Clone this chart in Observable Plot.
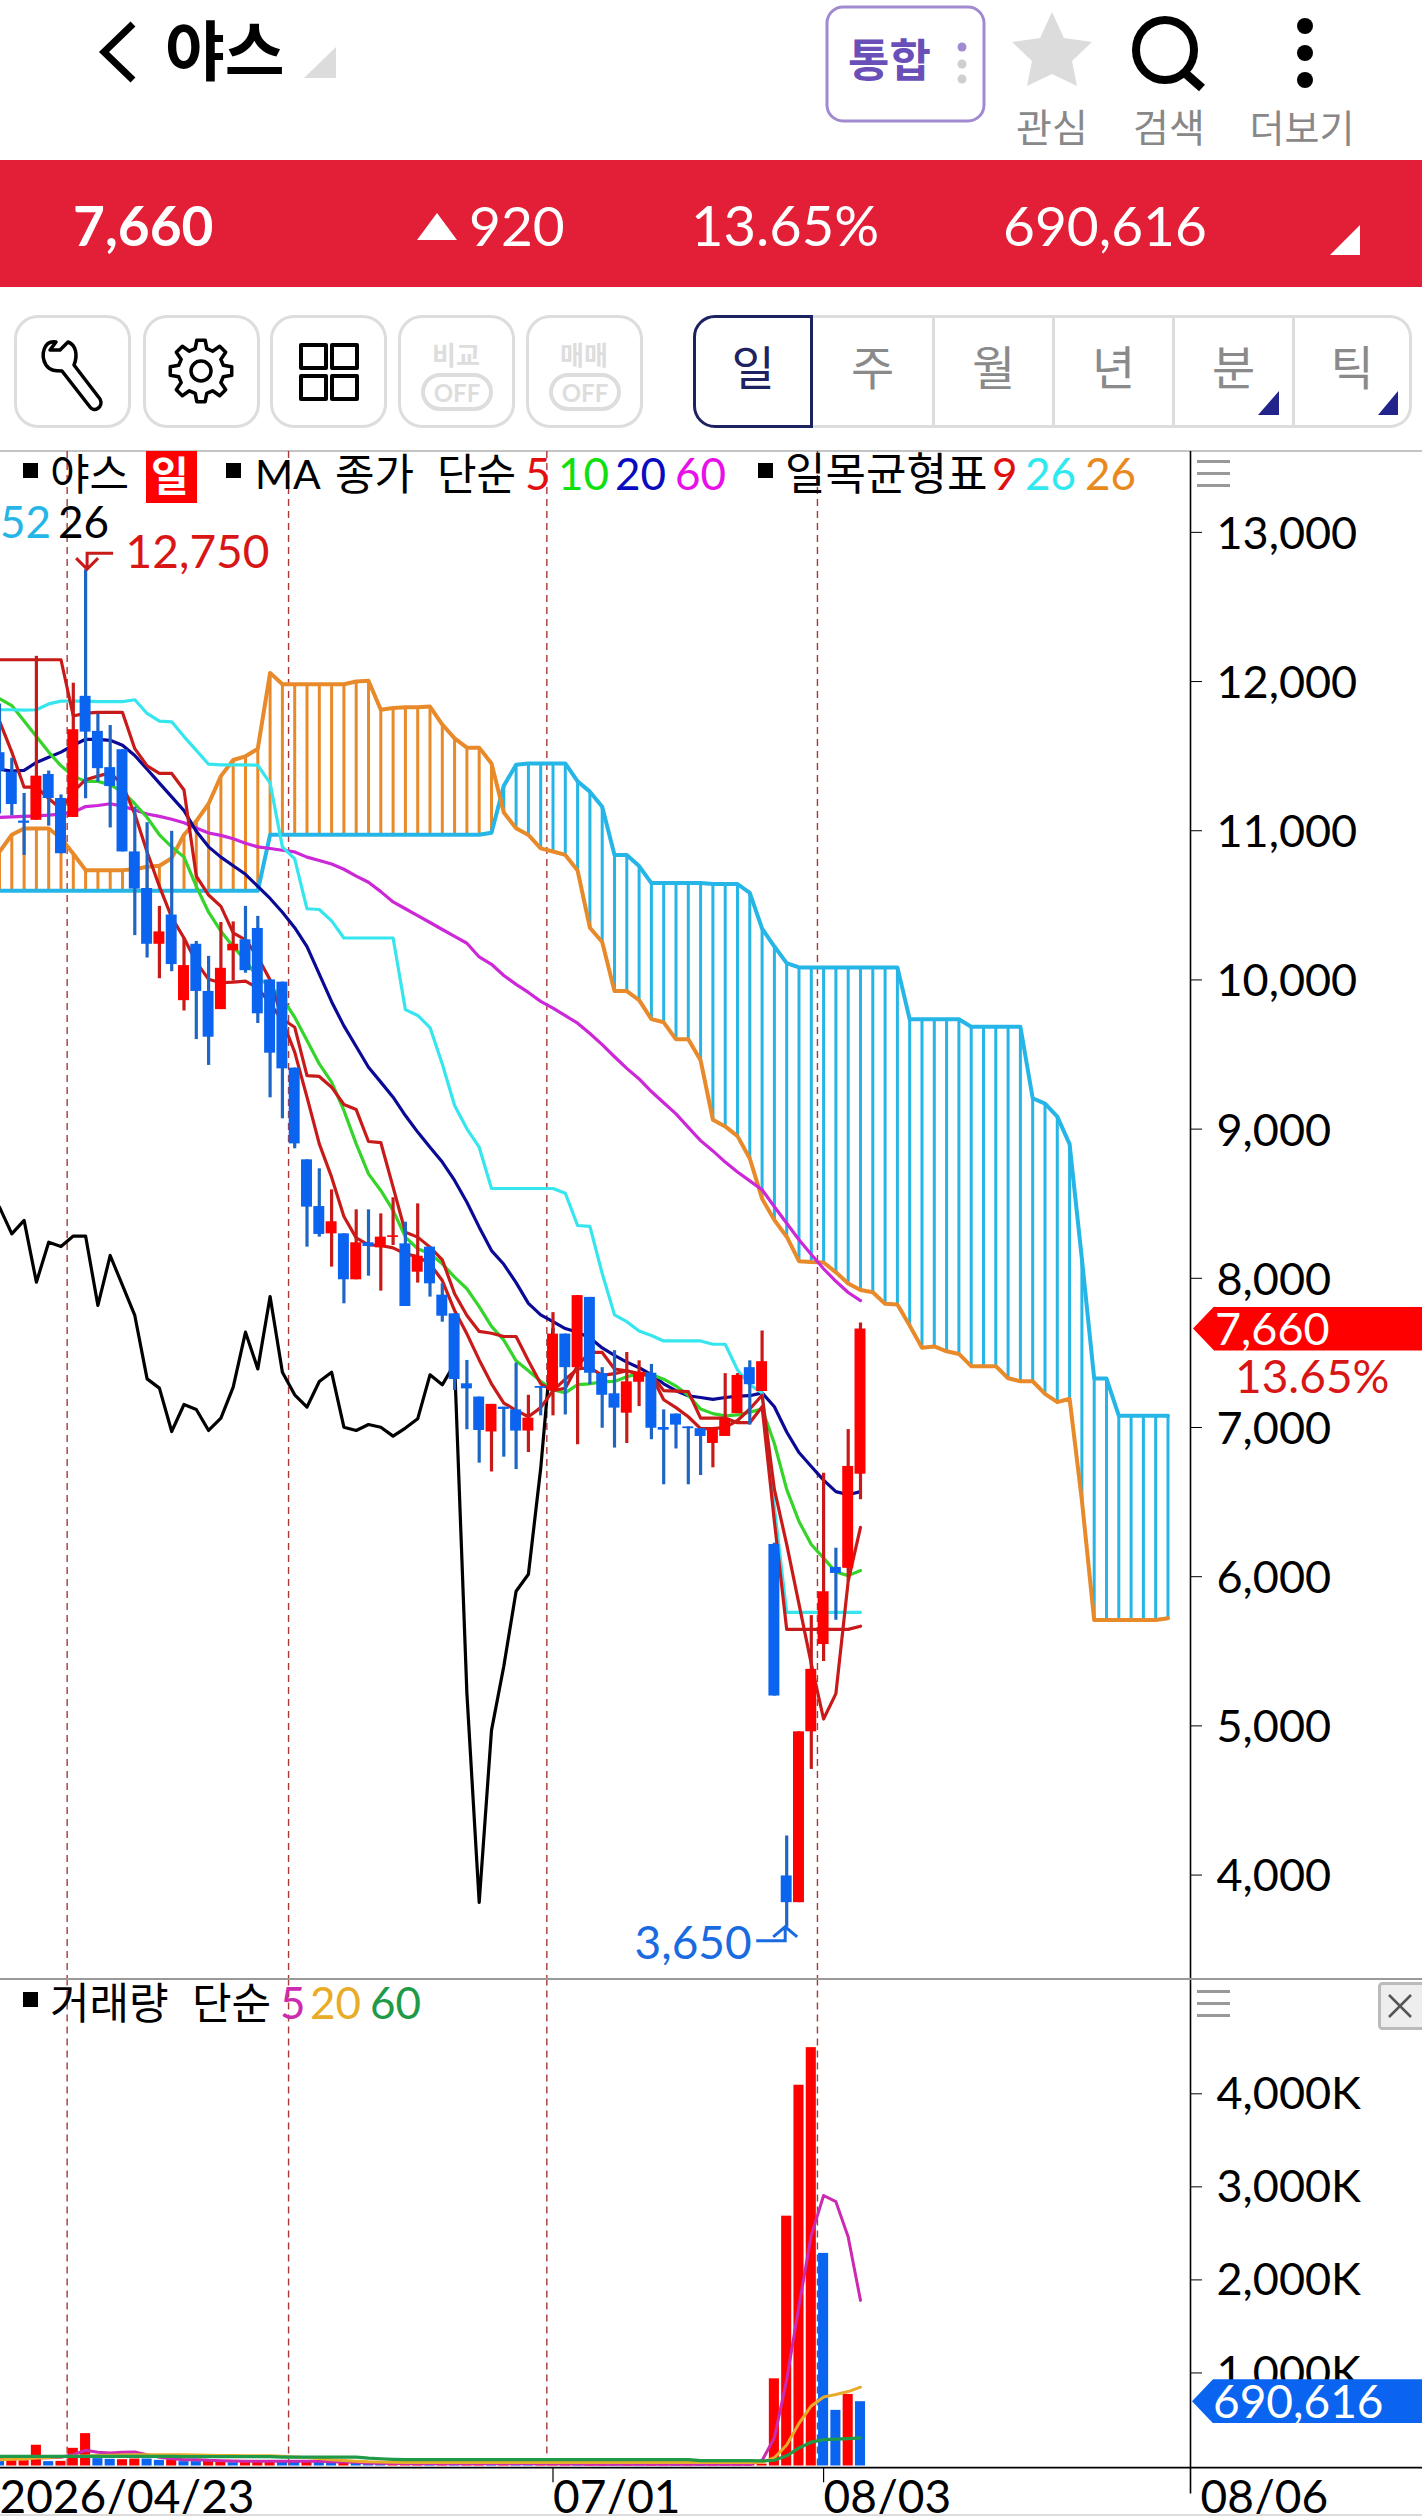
<!DOCTYPE html>
<html lang="ko"><head><meta charset="utf-8">
<script src="https://cdn.jsdelivr.net/npm/d3@7"></script>
<script src="https://cdn.jsdelivr.net/npm/@observablehq/plot@0.6"></script>
<style>
html,body{margin:0;padding:0;background:#fff}
#page{position:relative;width:1422px;height:2516px;overflow:hidden;font-family:Lato,"Noto Sans CJK KR",sans-serif;color:#000}
#page>*{position:absolute}
.t{white-space:nowrap;line-height:1}
.btn{box-sizing:border-box;top:315px;height:113px;width:117px;border:3px solid #ddd;border-radius:24px;background:#fff}
.ham{width:33px;height:27px;border-top:3px solid #999;border-bottom:3px solid #999;box-sizing:border-box}
.ham:after{content:"";display:block;height:3px;background:#999;margin-top:9px}
.tab{box-sizing:border-box;top:315px;height:113px;text-align:center;line-height:98px;font-size:47px;color:#8a8a8a;border:3px solid #ddd;border-left:0}
</style></head><body><div id="page"></div>
<script>
// ---------- prices (won), one entry per session ----------
const open = [11523,11393,11065,11070,11377,11216,11089,11901,11666,11423,11543,10858,10613,10239,10435,9861,10239,9923,9801,10195,10269,10345,10000,9985,9409,8794,8481,8298,8298,7990,8238,8204,8274,8231,8041,8209,7887,7762,7293,7204,6970,7136,7118,6976,7275,7247,7626,7401,7872,7361,7226,7096,7303,7364,7000,7090,7004,6992,6893,6940,7093,7401,7241,6216,3994,3815,4960,5545,6062,6056,6687];
const high = [11850,11486,11250,12169,11400,11240,11989,12750,11781,11705,11543,11158,11054,10493,10996,10281,10258,10158,10385,10389,10493,10426,10000,9985,9409,8794,8734,8593,8298,8459,8459,8432,8540,8376,8499,8209,7963,7762,7449,7204,7155,7136,7432,7216,7275,7770,7626,7884,7872,7401,7515,7503,7447,7423,7118,7090,7004,6992,6992,7361,7361,7447,7647,6225,4262,4960,5739,6693,6191,6986,7700];
const low = [11112,11100,10835,11070,11031,10846,11089,11215,11326,11019,10858,10297,10147,10008,10055,9792,9600,9427,9801,9992,10045,9708,9210,9069,8868,8209,8276,8075,7829,7990,8014,7914,8220,7811,7968,7874,7706,7248,6985,6761,6702,6801,6718,6832,7078,7078,7084,6884,7287,6995,6862,6893,7140,6918,6616,6856,6616,6678,6730,6940,7093,7016,7241,5200,3650,3815,4708,5431,5708,5970,6515];
const close = [11400,11176,11050,11366,11216,10846,11677,11661,11416,11296,10858,10609,10239,10322,10103,10096,9923,9616,10078,10239,10062,9773,9509,9404,8901,8477,8294,8379,7990,8238,8213,8276,8285,7811,8148,7963,7746,7322,7259,6980,7155,7121,6976,7063,7263,7626,7401,7884,7364,7216,7130,7306,7370,6995,6982,7016,6992,6940,6992,7056,7349,7287,7441,5200,3815,4960,5379,5899,6022,6739,7660];
// ---------- moving averages ----------
const ma5 = [11735,11527,11292,11292,11216,11146,11262,11342,11366,11389,11308,11112,10858,10627,10419,10281,10119,10004,9981,9985,9992,9946,9842,9727,9516,9214,8901,8678,8414,8271,8224,8220,8204,8164,8146,8097,7985,7784,7628,7453,7293,7164,7115,7072,7133,7247,7324,7392,7401,7349,7361,7380,7355,7349,7186,7133,7072,6992,6992,7001,7047,7124,7216,6585,6216,5816,5416,5046,5216,5970,6330];
const ma10 = [11885,11839,11735,11631,11527,11435,11366,11331,11331,11308,11262,11181,11089,10973,10892,10823,10627,10454,10327,10223,10131,10015,9958,9877,9750,9594,9437,9315,9125,8901,8700,8589,8455,8276,8198,8164,8097,8008,7930,7810,7678,7586,7447,7380,7309,7253,7232,7287,7293,7306,7309,7340,7361,7355,7324,7278,7216,7124,7093,7078,7084,7103,7124,6893,6585,6370,6216,6124,6031,6007,6041];
const ma20 = [11412,11400,11405,11458,11493,11527,11573,11613,11613,11606,11573,11504,11412,11319,11227,11135,10996,10892,10823,10765,10708,10627,10546,10454,10350,10223,10039,9854,9692,9554,9415,9315,9214,9091,8980,8879,8779,8656,8510,8343,8186,8094,7971,7832,7755,7709,7663,7638,7601,7533,7484,7438,7401,7355,7293,7247,7213,7201,7189,7201,7210,7213,7232,7139,6970,6832,6739,6647,6570,6549,6570];
const ma60 = [11089,11093,11096,11100,11105,11112,11123,11162,11169,11181,11165,11139,11112,11096,11077,11054,11019,10985,10969,10946,10916,10892,10881,10869,10858,10823,10800,10777,10742,10696,10655,10592,10523,10477,10431,10385,10338,10292,10246,10154,10105,10030,9970,9916,9856,9811,9760,9710,9641,9566,9485,9407,9336,9252,9177,9102,9012,8923,8854,8779,8713,8653,8594,8480,8369,8258,8160,8064,7980,7905,7851];
// ---------- ichimoku ----------
const tenkan = [12146,12146,12146,12146,12146,12146,11769,11788,11793,11793,11793,11550,11435,11384,11384,11273,10696,10569,10493,10315,10269,10154,10000,9738,9683,9359,9353,9281,9165,9131,8917,8910,8611,8309,8276,8209,8124,7896,7751,7644,7632,7610,7610,7447,7293,7247,7263,7416,7503,7503,7392,7380,7361,7355,7247,7244,7241,7063,7063,7063,7032,7032,7139,6370,5647,5647,5647,5647,5647,5647,5668];
const kijun = [11811,11811,11809,11811,11850,11869,11869,11869,11866,11866,11866,11878,11786,11735,11730,11631,11539,11446,11442,11442,11442,11439,11319,10892,10812,10477,10472,10396,10281,10281,10281,10281,10281,9801,9762,9681,9437,9158,9002,8879,8602,8602,8602,8602,8602,8602,8570,8354,8348,8032,7755,7709,7647,7617,7580,7580,7580,7580,7558,7558,7386,7287,7232,6462,5761,5761,5761,5761,5761,5761,5761];
const chikou = [8477,8298,8388,7974,8242,8213,8283,8283,7818,8153,7952,7751,7326,7264,6973,7154,7121,6980,7063,7271,7639,7393,7878,7371,7219,7137,7308,7371,7002,6980,7020,7002,6942,6996,7058,7353,7286,7427,5218,3817,4970,5400,5902,6016,6725,7660];
const spanOrange = [10858,10973,11015,11015,11015,10950,10846,10736,10736,10736,10736,10742,10759,10765,10816,10973,11065,11181,11366,11474,11499,11550,12058,11982,11982,11982,11982,11982,11982,12000,12005,11811,11823,11827,11827,11832,11712,11619,11557,11557,11451,11122,11017,10972,10882,10861,10838,10733,10350,10254,9925,9925,9865,9737,9716,9602,9602,9461,9063,9018,8953,8803,8534,8390,8279,8115,8109,8106,8040,7965,7922,7907,7829,7824,7683,7534,7543,7511,7493,7411,7411,7411,7330,7310,7310,7225,7170,7193,6511,5709,5709,5709,5709,5709,5709,5721];
const spanSky = [10597,10597,10597,10597,10597,10597,10597,10597,10597,10597,10597,10597,10597,10597,10597,10597,10597,10597,10597,10597,10597,10597,10973,10973,10973,10973,10973,10973,10973,10973,10973,10973,10973,10973,10973,10973,10973,10973,10973,10973,10987,11301,11442,11451,11451,11451,11451,11331,11262,11161,10838,10838,10763,10649,10649,10649,10649,10649,10643,10643,10643,10583,10344,10224,10113,10084,10084,10084,10084,10084,10084,10084,10084,10084,9736,9736,9736,9736,9736,9686,9686,9686,9686,9686,9207,9171,9084,8899,8130,7328,7328,7079,7079,7079,7079,7079];
// ---------- volume (thousand shares) ----------
const volume = [50,57,57,223,47,50,190,348,79,72,68,75,75,61,68,47,47,50,54,36,54,54,54,57,57,57,50,47,39,29,25,25,29,29,22,25,25,25,25,25,25,25,25,25,25,22,20,20,18,18,18,18,18,18,20,20,20,18,18,18,18,18,20,937,2685,4092,4496,2285,598,769,691];
const volumeSide = ["b","r","r","r","b","r","r","r","b","b","r","r","b","b","r","b","b","r","r","b","r","r","r","b","b","r","b","b","r","b","b","b","r","r","r","b","r","b","r","r","b","r","b","b","r","r","r","b","r","r","b","r","b","r","r","b","r","b","r","r","r","r","r","r","r","r","r","b","b","r","b"];
const volMa5 = [86,86,86,90,90,94,122,169,147,140,147,151,122,93,79,68,68,61,57,54,50,50,50,50,50,50,50,47,43,39,30,29,27,26,25,25,25,25,25,25,25,25,25,25,25,23,22,21,20,19,18,18,18,18,19,19,19,19,18,18,18,18,60,303,925,1721,2479,2907,2841,2460,1780];
const volMa20 = [68,72,76,85,92,100,104,108,112,116,119,122,122,122,122,120,118,116,114,112,111,111,111,105,98,90,80,68,60,52,46,43,40,38,38,38,38,38,38,38,38,38,38,38,38,38,38,38,38,38,38,38,38,38,38,38,38,38,38,38,38,38,39,89,225,458,645,742,769,800,847];
const volMa60 = [104,104,104,104,104,104,104,104,104,104,104,104,104,104,104,100,100,100,100,100,100,100,100,95,95,95,95,95,95,95,85,78,72,68,68,68,68,68,68,68,68,68,68,68,68,68,68,68,68,68,68,68,68,68,68,68,68,57,57,57,57,57,55,62,109,194,256,284,288,295,303];
// ---------- axes and labels ----------
const priceTicks = [4000,5000,6000,7000,8000,9000,10000,11000,12000,13000];
const volumeTicks = [1000,2000,3000,4000];
const monthBreaks = [5.5,23.5,44.5,66.5];
const dateIndex = [0,45,67];
const dateText = ["2026/04/23","07/01","08/03"];
const lastDateSlot = [97.65];
const lastDateText = ["08/06"];

const FONT = 'Lato,"Noto Sans CJK KR",sans-serif';
const RED="#ff0000", BLUE="#0a64f0", WICKR="#c91a1a", WICKB="#1f66c4", SKY="#25b5e6", ORANGE="#e8892a";
const xDomain=[0.0813,96.83], xRange=[0,1190];

const candles = open.map((o,i)=>({i,o,c:close[i],h:high[i],l:low[i],up:close[i]>=o}));
const series = a => a.map((v,i)=>({i,v}));
const cloud = spanOrange.map((a,i)=>({i,a,b:spanSky[i]}));
const vols = volume.map((v,i)=>({i,v,s:volumeSide[i]}));
const line = (a,stroke,w=3.2)=>Plot.line(series(a),{x:"i",y:"v",stroke,strokeWidth:w,clip:true,strokeLinejoin:"round"});

// callout drawn through the scales: elbow arrow from the label to the extreme value
const callout = (ix,val,color,dir)=>(index,scales)=>{
  const X=scales.x(ix), Y=scales.y(val);
  const p=d3.create("svg:path").attr("fill","none").attr("stroke",color).attr("stroke-width",3);
  if(dir>0) p.attr("d",`M${X+28},${Y-16}H${X+2}V${Y-2}M${X-9},${Y-11}L${X+2},${Y}L${X+13},${Y-11}`);
  else p.attr("d",`M${X-30},${Y+14}H${X-1}V${Y+1}M${X-13},${Y+10}L${X-1},${Y}L${X+11},${Y+10}`);
  return p.node();
};
const nudge = (svg,px)=>svg.querySelectorAll('[aria-label="y-axis tick label"]').forEach(g=>g.style.translate=`0 ${px}px`);

const price = Plot.plot({
  width:1422,height:1528,marginTop:0,marginBottom:0,marginLeft:0,marginRight:232,
  style:{background:"transparent",fontFamily:FONT,overflow:"visible"},
  x:{domain:xDomain,range:xRange,axis:null},
  y:{domain:[3300,13542],range:[1528,0]},
  marks:[
    Plot.ruleX(monthBreaks,{stroke:"#a83a3a",strokeWidth:1.4,strokeDasharray:"7,5",clip:true}),
    Plot.ruleX(cloud.filter(d=>d.a>=d.b),{x:"i",y1:"a",y2:"b",stroke:ORANGE,strokeWidth:3,clip:true}),
    Plot.ruleX(cloud.filter(d=>d.a<d.b),{x:"i",y1:"a",y2:"b",stroke:SKY,strokeWidth:3,clip:true}),
    line(spanSky,SKY,4), line(spanOrange,ORANGE,4),
    line(chikou,"#000"), line(ma60,"#cc28d8"), line(ma20,"#0a0a96"), line(ma10,"#35d42a"),
    line(kijun,"#36e6ee"), line(tenkan,WICKR), line(ma5,WICKR),
    Plot.ruleX(candles.filter(d=>d.up),{x:"i",y1:"l",y2:"h",stroke:WICKR,strokeWidth:3.2,clip:true}),
    Plot.ruleX(candles.filter(d=>!d.up),{x:"i",y1:"l",y2:"h",stroke:WICKB,strokeWidth:3.2,clip:true}),
    Plot.rect(candles.filter(d=>d.up),{x1:d=>d.i-.445,x2:d=>d.i+.445,y1:"o",y2:"c",fill:RED,clip:true}),
    Plot.rect(candles.filter(d=>!d.up),{x1:d=>d.i-.445,x2:d=>d.i+.445,y1:"o",y2:"c",fill:BLUE,clip:true}),
    Plot.ruleX([xDomain[1]],{stroke:"#000",strokeWidth:1.6}),
    Plot.axisY(priceTicks,{anchor:"right",label:null,tickSize:11,tickPadding:15,fontSize:45,tickFormat:d3.format(","),stroke:"#000",fill:"#000"}),
    callout(7,12750,"#c91a1a",1),
    Plot.text(["12,750"],{x:[7],y:[12750],dx:40,dy:-16,textAnchor:"start",fontSize:46,fill:"#d81616"}),
    callout(64,3650,"#1a6ae0",-1),
    Plot.text(["3,650"],{x:[64],y:[3650],dx:-35,dy:17,textAnchor:"end",fontSize:46,fill:"#1a6ae0"})
  ]
});
price.style.cssText+=";left:0;top:451px";
nudge(price,2);

const vol = Plot.plot({
  width:1422,height:537,marginTop:0,marginBottom:0,marginLeft:0,marginRight:232,
  style:{background:"transparent",fontFamily:FONT,overflow:"visible"},
  x:{domain:xDomain,range:xRange,axis:null},
  y:{domain:[0,4000],range:[486.5,114.3]},
  marks:[
    Plot.ruleX(monthBreaks,{stroke:"#a83a3a",strokeWidth:1.4,strokeDasharray:"7,5",y1:0,y2:5228,clip:true}),
    Plot.rect(vols.filter(d=>d.s==="r"),{x1:d=>d.i-.41,x2:d=>d.i+.41,y1:0,y2:"v",fill:RED,clip:true}),
    Plot.rect(vols.filter(d=>d.s==="b"),{x1:d=>d.i-.41,x2:d=>d.i+.41,y1:0,y2:"v",fill:BLUE,clip:true}),
    line(volMa5,"#cc2ab0",3), line(volMa20,"#e8ac28",3), line(volMa60,"#1f9a48",3.2),
    Plot.axisY(volumeTicks,{anchor:"right",label:null,tickSize:11,tickPadding:15,fontSize:45,tickFormat:v=>d3.format(",")(v)+"K",stroke:"#000",fill:"#000"}),
    Plot.ruleY([-17],{stroke:"#000",strokeWidth:1.6,x1:0,x2:115.7}),
    Plot.ruleX([xDomain[1]],{y1:-300,y2:5228,stroke:"#000",strokeWidth:1.6}),
    Plot.ruleX(dateIndex.slice(1),{y1:-17,y2:-180,stroke:"#000",strokeWidth:1.2}),
    Plot.text(dateText,{x:dateIndex,y:d=>-350,textAnchor:"start",fontSize:46,fill:"#000"}),
    Plot.text(lastDateText,{x:lastDateSlot,y:d=>-350,textAnchor:"start",fontSize:46,fill:"#000"})
  ]
});
vol.style.cssText+=";left:0;top:1979px";
nudge(vol,1);

const page=document.getElementById("page");
const el=(html)=>{const d=document.createElement("div");d.innerHTML=html;const n=d.firstElementChild;page.appendChild(n);return n;};
const txt=(s,x,yc,size,color,extra="")=>el(`<div class="t" style="left:${x}px;top:${yc-size/2}px;font-size:${size}px;color:${color};${extra}">${s}</div>`);

// --- app chrome ---
el(`<svg style="left:0;top:0" width="1422" height="160" xmlns="http://www.w3.org/2000/svg">
<path d="M133,24 L104,52 L133,80" fill="none" stroke="#000" stroke-width="7"/>
<path d="M336,47V78H304Z" fill="#dcdcdc"/>
<rect x="827" y="7" width="157" height="114" rx="16" fill="#fff" stroke="#a08ad0" stroke-width="3"/>
<circle cx="962" cy="47" r="4.5" fill="#a08ad0"/><circle cx="962" cy="64" r="4.5" fill="#cfcfcf"/><circle cx="962" cy="79" r="4.5" fill="#cfcfcf"/>
<path d="M1052,12 L1064,38 L1092,42 L1072,61 L1077,86 L1052,74 L1027,86 L1032,61 L1012,42 L1040,38Z" fill="#dcdcdc"/>
<ellipse cx="1165" cy="50" rx="29" ry="30" fill="none" stroke="#000" stroke-width="8"/><path d="M1185,73 L1202,88" stroke="#000" stroke-width="9"/>
<circle cx="1305" cy="26" r="8"/><circle cx="1305" cy="53" r="8"/><circle cx="1305" cy="80" r="8"/></svg>`);
txt("야스",165,50,65,"#000","font-weight:700");
txt("통합",848,60,45,"#6a4fb8","font-weight:700");
txt("관심",1052,127,39,"#888","transform:translateX(-50%)");
txt("검색",1169,127,39,"#888","transform:translateX(-50%)");
txt("더보기",1302,127,38,"#888","transform:translateX(-50%)");
el(`<div style="left:0;top:160px;width:1422px;height:127px;background:#e21f36"></div>`);
txt("7,660",73,225,55,"#fff","font-weight:700");
el(`<svg style="left:0;top:160px" width="1422" height="127"><path d="M417,80 L437,53 L457,80Z" fill="#fff"/><path d="M1360,65 V95 H1330Z" fill="#fff"/></svg>`);
txt("920",469,225,55,"#fff");
txt("13.65%",691,225,56,"#fff");
txt("690,616",1003,225,55,"#fff");
// toolbar
[14,143,270,398,526].forEach(x=>el(`<div class="btn" style="left:${x}px"></div>`));
const gear=(cx,cy,n,r1,r2)=>{let d="";for(let k=0;k<n;k++){const a=k*2*Math.PI/n,w=Math.PI/n*.5;[[r1,a-w*1.3],[r2,a-w*.7],[r2,a+w*.7],[r1,a+w*1.3]].forEach(([r,t],j)=>{d+=(k==0&&j==0?"M":"L")+(cx+r*Math.sin(t)).toFixed(1)+","+(cy-r*Math.cos(t)).toFixed(1);});}return d+"Z";};
el(`<svg style="left:0;top:315px" width="660" height="113" fill="none" xmlns="http://www.w3.org/2000/svg">
<g stroke="#000" stroke-width="3.5" stroke-linejoin="round"><path d="M56,27 C44,25 40,40 46,50 C50,56 56,56 62,56 L90,92 C94,98 104,92 100,84 L74,50 C78,40 76,30 68,27 L60,35 L50,35Z"/>
<circle cx="201" cy="56" r="10"/><path d="${gear(201,56,8,23,31)}"/>
<rect x="301" y="30" width="25" height="23" stroke-width="4"/><rect x="332" y="30" width="25" height="23" stroke-width="4"/><rect x="301" y="61" width="25" height="23" stroke-width="4"/><rect x="332" y="61" width="25" height="23" stroke-width="4"/></g>
<rect x="423" y="60" width="68" height="34" rx="17" stroke="#ddd" stroke-width="4"/><rect x="551" y="60" width="68" height="34" rx="17" stroke="#ddd" stroke-width="4"/></svg>`);
txt("비교",456,355,26,"#ddd","transform:translateX(-50%);font-weight:700");
txt("매매",584,355,26,"#ddd","transform:translateX(-50%);font-weight:700");
txt("OFF",457,393,24,"#ddd","transform:translateX(-50%);font-weight:700");
txt("OFF",585,393,24,"#ddd","transform:translateX(-50%);font-weight:700");
[["주",813,122],["월",935,120],["년",1055,120],["분",1175,120],["틱",1295,117]].forEach(([s,x,w],k)=>{
  el(`<div class="tab" style="left:${x}px;width:${w}px;${k==4?"border-radius:0 22px 22px 0":""}">${s}</div>`);});
el(`<div class="tab" style="left:693px;width:120px;border:3px solid #1d2260;border-radius:22px 0 0 22px;color:#1d2260">일</div>`);
el(`<svg style="left:0;top:315px" width="1422" height="113"><path d="M1279,100 V76 L1258,100Z" fill="#22248c"/><path d="M1398,100 V76 L1378,100Z" fill="#22248c"/></svg>`);
el(`<div style="left:0;top:450px;width:1422px;height:2px;background:#c4c4c4"></div>`);
page.appendChild(price); page.appendChild(vol);
price.style.position="absolute"; vol.style.position="absolute";
el(`<div style="left:0;top:1978px;width:1422px;height:2px;background:#999"></div>`);
el(`<div style="left:0;top:2514px;width:1422px;height:2px;background:#ddd"></div>`);
el(`<div class="ham" style="left:1197px;top:460px"></div>`);
el(`<div class="ham" style="left:1197px;top:1990px"></div>`);
el(`<svg style="left:1378px;top:1982px" width="44" height="48"><rect x="1.5" y="1.5" width="50" height="45" rx="3" fill="#eee" stroke="#bbb" stroke-width="3"/><path d="M11,13 L33,35 M33,13 L11,35" stroke="#555" stroke-width="2.5"/></svg>`);

// --- legends ---
const sq=(x,yc)=>el(`<div style="left:${x}px;top:${yc-8}px;width:15px;height:15px;background:#000"></div>`);
sq(23,471);
txt("야스",50,473,43,"#000");
el(`<div style="left:146px;top:451px;width:51px;height:52px;background:#f00"></div>`);
txt("일",151,475,41,"#fff","font-weight:700");
sq(226,471);
txt("MA",255,473,41,"#000");
txt("종가",335,473,43,"#000");
txt("단순",437,473,43,"#000");
[["5",525,"#e01010"],["10",558,"#10e010"],["20",615,"#0a0ac0"],["60",675,"#e810e8"]].forEach(([s,x,c])=>txt(s,x,473,44,c));
sq(758,471);
txt("일목균형표",785,473,44,"#000");
[["9",992,"#e01010"],["26",1025,"#30e8f0"],["26",1085,"#e8891e"]].forEach(([s,x,c])=>txt(s,x,473,44,c));
txt("52",0,521,44,SKY); txt("26",58,521,44,"#000");
sq(23,2000);
txt("거래량",50,2002,43,"#000"); txt("단순",192,2002,43,"#000");
[["5",280,"#cc2ab0"],["20",310,"#e8ac28"],["60",370,"#1f9a48"]].forEach(([s,x,c])=>txt(s,x,2002,44,c));

// --- last value tags, placed through the scales ---
const py=451+price.scale("y").apply(close[close.length-1]);
el(`<div style="left:1193px;top:${py-22}px;width:229px;height:44px;background:#f00;clip-path:polygon(0 50%,21px 0,100% 0,100% 100%,21px 100%)"></div>`);
txt(d3.format(",")(close[close.length-1]),1215,py,45,"#fff");
txt("13.65%",1235,py+47,46,"#d81616");
const vy=1979+vol.scale("y").apply(volume[volume.length-1]);
el(`<div style="left:1192px;top:${vy-22}px;width:230px;height:44px;background:${BLUE};clip-path:polygon(0 50%,21px 0,100% 0,100% 100%,21px 100%)"></div>`);
txt("690,616",1213,vy,46,"#fff");
</script></body></html>
